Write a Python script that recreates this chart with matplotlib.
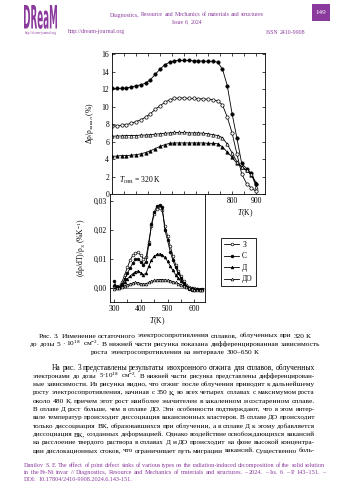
import matplotlib
matplotlib.use("Agg")
import matplotlib.pyplot as plt
from matplotlib.ticker import MultipleLocator, FixedLocator, FuncFormatter
from matplotlib.textpath import TextPath
from matplotlib.font_manager import FontProperties
from matplotlib.patches import PathPatch, Rectangle
from matplotlib.transforms import Affine2D, IdentityTransform

plt.rcParams['font.family'] = ['Liberation Serif', 'DejaVu Serif']
plt.rcParams['mathtext.fontset'] = 'custom'
plt.rcParams['mathtext.rm'] = 'Liberation Serif'
plt.rcParams['mathtext.it'] = 'Liberation Serif:italic'
plt.rcParams['mathtext.bf'] = 'Liberation Serif:bold'

W, H = 350, 495
PURPLE = '#8a3a9c'

# --- данные: изохронный отжиг (верх) ---
T_main = [300, 320, 340, 360, 380, 400, 420, 440, 460, 480, 500, 520, 540, 560, 580, 600,
          620, 640, 660, 680, 700, 720, 740, 760, 780, 800, 820, 840, 860, 880, 900]
rho_Z = [7.8, 7.8, 7.85, 7.95, 8.1, 8.3, 8.5, 8.8, 9.2, 9.7, 10.1, 10.5, 10.8, 10.95, 11.0, 11.0,
         10.95, 10.95, 10.9, 10.9, 10.85, 10.8, 10.65, 10.2, 8.8, 7.0, 4.6, 2.3, 1.2, 0.7, 0.3]
rho_S = [12.1, 12.1, 12.1, 12.15, 12.25, 12.4, 12.5, 12.7, 13.1, 13.7, 14.3, 14.8, 15.1, 15.25, 15.3, 15.3,
         15.3, 15.25, 15.25, 15.2, 15.2, 15.2, 15.1, 14.3, 12.4, 9.2, 6.4, 3.5, 2.9, 2.4, 1.1]
rho_D = [4.3, 4.35, 4.4, 4.4, 4.45, 4.5, 4.6, 4.75, 4.95, 5.2, 5.45, 5.65, 5.8, 5.85, 5.85, 5.85,
         5.85, 5.85, 5.85, 5.85, 5.8, 5.8, 5.75, 5.4, 4.8, 4.2, 3.5, 3.1, 2.7, 2.2, 1.3]
rho_DO = [6.6, 6.65, 6.65, 6.7, 6.7, 6.7, 6.75, 6.75, 6.8, 6.85, 6.9, 6.95, 7.0, 7.05, 7.05, 7.05,
          7.0, 7.0, 7.0, 6.95, 6.9, 6.8, 6.7, 6.45, 5.7, 4.7, 3.7, 3.1, 2.7, 2.3, 0.85]

# --- данные: производная (низ) ---
T_der = [300, 310, 320, 330, 340, 350, 360, 370, 380, 390, 400, 410, 420, 430, 440, 450, 460,
         470, 480, 490, 500, 510, 520, 530, 540, 550, 560, 570, 580, 590, 600, 610, 620, 630]
der_Z = [0.0005, 0.0, 0.0005, 0.002, 0.0045, 0.007, 0.0095, 0.0112, 0.012, 0.0122, 0.0112, 0.01,
         0.0105, 0.016, 0.0215, 0.0255, 0.0272, 0.0275, 0.027, 0.0215, 0.018, 0.0145, 0.011, 0.008,
         0.0058, 0.004, 0.0022, 0.001, 0.0003, 0.0, -0.0002, -0.0005, -0.0008, -0.001]
der_S = [0.0022, 0.0003, 0.0, 0.0012, 0.003, 0.005, 0.0068, 0.0085, 0.0098, 0.0098, 0.009, 0.008,
         0.009, 0.015, 0.022, 0.0262, 0.0282, 0.0287, 0.028, 0.02, 0.0165, 0.0125, 0.0095, 0.007,
         0.005, 0.0035, 0.0015, 0.0003, -0.0005, -0.0008, -0.001, -0.0006, -0.0008, -0.0004]
der_D = [0.001, 0.0005, 0.0002, 0.001, 0.002, 0.003, 0.004, 0.0048, 0.0055, 0.0058, 0.0052, 0.0045,
         0.005, 0.0075, 0.0095, 0.0108, 0.0115, 0.0117, 0.0113, 0.0105, 0.0092, 0.0075, 0.006, 0.0045,
         0.0033, 0.0022, 0.0012, 0.0005, 0.0, -0.0003, -0.0005, -0.0006, -0.0004, -0.0006]
der_DO = [-0.0005, -0.0002, 0.0, 0.0003, 0.0007, 0.001, 0.0013, 0.0016, 0.0018, 0.0017, 0.0014, 0.0012,
          0.0014, 0.0018, 0.0022, 0.0025, 0.0027, 0.0028, 0.0028, 0.0027, 0.0026, 0.0024, 0.0021, 0.0018,
          0.0014, 0.001, 0.0005, 0.0001, -0.0003, -0.0006, -0.0008, -0.0009, -0.001, -0.001]

labels = ['З', 'С', 'Д', 'ДО']
styles = [('o', 'white'), ('o', 'black'), ('^', 'black'), ('^', 'white')]

caption = [
    'Рис. 3. Изменение остаточного электросопротивления сплавов, облученных при 320 К',
    'до дозы 5 · 10$^{18}$ см$^{-2}$. В нижней части рисунка показана дифференцированная зависимость',
    'роста электросопротивления на интервале 300–650 К',
]
body = [
    'На рис. 3 представлены результаты изохронного отжига для сплавов, облученных',
    'электронами до дозы 5·10$^{18}$ см$^{-2}$. В нижней части рисунка представлены дифференцирован-',
    'ные зависимости. Из рисунка видно, что отжиг после облучения приводит к дальнейшему',
    'росту электросопротивления, начиная с 350 К, во всех четырех сплавах с максимумом роста',
    'около 480 К, причем этот рост наиболее значителен в закаленном и состаренном сплаве.',
    'В сплаве Д рост больше, чем в сплаве ДО. Эти особенности подтверждают, что в этом интер-',
    'вале температур происходит диссоциация вакансионных кластеров. В сплаве ДО происходит',
    'только диссоциация ВК, образовавшихся при облучении, а в сплаве Д к этому добавляется',
    'диссоциация ВК, созданных деформацией. Однако воздействие освобождающихся вакансий',
    'на расслоение твердого раствора в сплавах Д и ДО происходит на фоне высокой концентра-',
    'ции дислокационных стоков, что ограничивает путь миграции вакансий. Существенно боль-',
]
footer = [
    'Danilov S. E. The effect of point defect sinks of various types on the radiation-induced decomposition of the solid solution',
    'in the Fe-Ni invar // Diagnostics, Resource and Mechanics of materials and structures. – 2024. – Iss. 6. – P. 143–151. –',
    'DOI: 10.17804/2410-9908.2024.6.143-151.',
]


def fx(px):
    return px / W


def fy(py):
    return 1 - py / H


fig = plt.figure(figsize=(W / 100, H / 100), dpi=100)
renderer = fig.canvas.get_renderer()


def width(s, size):
    t = fig.text(0, 0, s, fontsize=size)
    w = t.get_window_extent(renderer).width
    t.remove()
    return w


def space(size):
    # обычный межсловный пробел, ~0.25 em
    return 0.25 * size * 100 / 72


def natural(line, size):
    words = line.split()
    return sum(width(w, size) for w in words) + space(size) * (len(words) - 1)


def fit_size(line, target, base=5.0):
    return base * target / natural(line, base)


def words_line(line, x0, y, size, color='black', x1=None):
    # строка по словам; при x1 строка выравнивается по ширине
    words = line.split()
    widths = [width(w, size) for w in words]
    gap = space(size)
    if x1 is not None and len(words) > 1:
        gap = (x1 - x0 - sum(widths)) / (len(words) - 1)
    x = x0
    for w, wd in zip(words, widths):
        fig.text(fx(x), fy(y), w, fontsize=size, color=color, va='baseline')
        x += wd + gap


# --- шапка ---
tp = TextPath((0, 0), 'DReaM', size=10, prop=FontProperties(family='Liberation Sans Narrow', weight='bold'))
bb = tp.get_extents()
sx, sy = 33 / bb.width, 24 / bb.height
tr = Affine2D().translate(-bb.x0, -bb.y0).scale(sx, sy).translate(24, H - 29)
fig.patches.append(PathPatch(tp, transform=tr + IdentityTransform(), facecolor=PURPLE, edgecolor='none'))
fig.text(fx(40.5), fy(33), 'http://dream-journal.org', fontsize=2.3, color=PURPLE, ha='center', va='center')
head = 'Diagnostics, Resource and Mechanics of materials and structures'
hs = fit_size(head, 154)
words_line(head, 110, 16.5, hs, color=PURPLE, x1=264)
words_line('Issue 6, 2024', 187 - natural('Issue 6, 2024', hs) / 2, 23.5, hs, color=PURPLE)
fig.text(fx(68), fy(32), 'http://dream-journal.org', fontsize=hs, color=PURPLE, va='center')
words_line('ISSN 2410-9908', 305 - natural('ISSN 2410-9908', hs), 33.5, hs, color=PURPLE)
fig.patches.append(Rectangle((fx(312), fy(21)), fx(18), 17 / H, transform=fig.transFigure,
                             facecolor=PURPLE, edgecolor='none'))
fig.text(fx(321), fy(12.5), '149', fontsize=5, color='white', ha='center', va='center')

# --- верхний график ---
ax = fig.add_axes([fx(112), fy(194), 153 / W, 141 / H])
for y, (m, fc), lab in zip([rho_Z, rho_S, rho_D, rho_DO], styles, labels):
    ax.plot(T_main, y, '-', color='black', lw=0.6, marker=m, ms=2.4, mfc=fc, mec='black', mew=0.5,
            label=lab)
ax.set_xlim(300, 937)
ax.set_ylim(0, 16.15)
ax.xaxis.set_major_locator(MultipleLocator(50))
ax.xaxis.set_major_formatter(FuncFormatter(lambda v, p: f'{v:.0f}' if v in (800, 900) else ''))
ax.yaxis.set_major_locator(MultipleLocator(2))
ax.tick_params(direction='in', length=2.2, width=0.5, labelsize=5.5, pad=2,
               top=True, right=True)
for s in ax.spines.values():
    s.set_linewidth(0.6)
ax.set_ylabel('Δρ/ρ$_{\\mathrm{закал}}$ (%)', fontsize=5.5, labelpad=4)
ax.text(330, 1.6, '$T_{\\mathrm{IRR}}$ = 320 K', fontsize=5.5, va='center')
fig.text(fx(245), fy(213), '$T$(K)', fontsize=5.5, ha='center', va='center')

# --- нижний график ---
ax2 = fig.add_axes([fx(110), fy(302), 95 / W, 108 / H])
for y, (m, fc), lab in zip([der_Z, der_S, der_D, der_DO], styles, labels):
    ax2.plot(T_der, y, '-', color='black', lw=0.6, marker=m, ms=2.0, mfc=fc, mec='black', mew=0.45,
             label=lab)
ax2.axhline(0, color='#555555', lw=0.5, zorder=0)
ax2.set_xlim(285, 640)
ax2.set_ylim(-0.005, 0.0325)
ax2.xaxis.set_major_locator(FixedLocator([300, 400, 500, 600]))
ax2.xaxis.set_minor_locator(MultipleLocator(50))
ax2.yaxis.set_major_locator(FixedLocator([0.0, 0.01, 0.02, 0.03]))
ax2.yaxis.set_major_formatter(FuncFormatter(lambda v, p: f'{v:.2f}'.replace('.', ',')))
ax2.tick_params(which='both', direction='in', length=2.2, width=0.5, labelsize=5.5, pad=2)
for s in ax2.spines.values():
    s.set_linewidth(0.6)
ax2.set_ylabel('(dρ/dT)/ρ$_\\mathrm{З}$ (%K$^{-1}$)', fontsize=5.5, labelpad=4)
ax2.set_xlabel('$T$(K)', fontsize=5.5, labelpad=2)

handles, _ = ax2.get_legend_handles_labels()
leg = fig.legend(handles, labels, loc='upper left', bbox_to_anchor=(fx(217), fy(234)), fontsize=5.5,
                 frameon=True, fancybox=False, edgecolor='black', framealpha=1, handlelength=2.0,
                 handletextpad=0.4, borderpad=0.4, labelspacing=0.45)
leg.get_frame().set_linewidth(0.6)

# --- подпись (по центру) ---
cap_size = fit_size(caption[1], 287)
for i, line in enumerate(caption):
    words_line(line, 175 - natural(line, cap_size) / 2, 337.5 + 8.3 * i, cap_size)

# --- основной текст (по ширине) ---
for i, line in enumerate(body):
    x0 = 52 if i == 0 else 33
    words_line(line, x0, 369.5 + 8.3 * i, fit_size(line, 315 - x0), x1=315)

# --- колонтитул ---
foot_size = fit_size(footer[0], 301)
for i, line in enumerate(footer):
    if i == 2:
        words_line(line, 24, 467 + 7 * i, foot_size, color=PURPLE)
    else:
        words_line(line, 24, 467 + 7 * i, fit_size(line, 301), color=PURPLE, x1=325)

fig.savefig('out.png', dpi=100)
